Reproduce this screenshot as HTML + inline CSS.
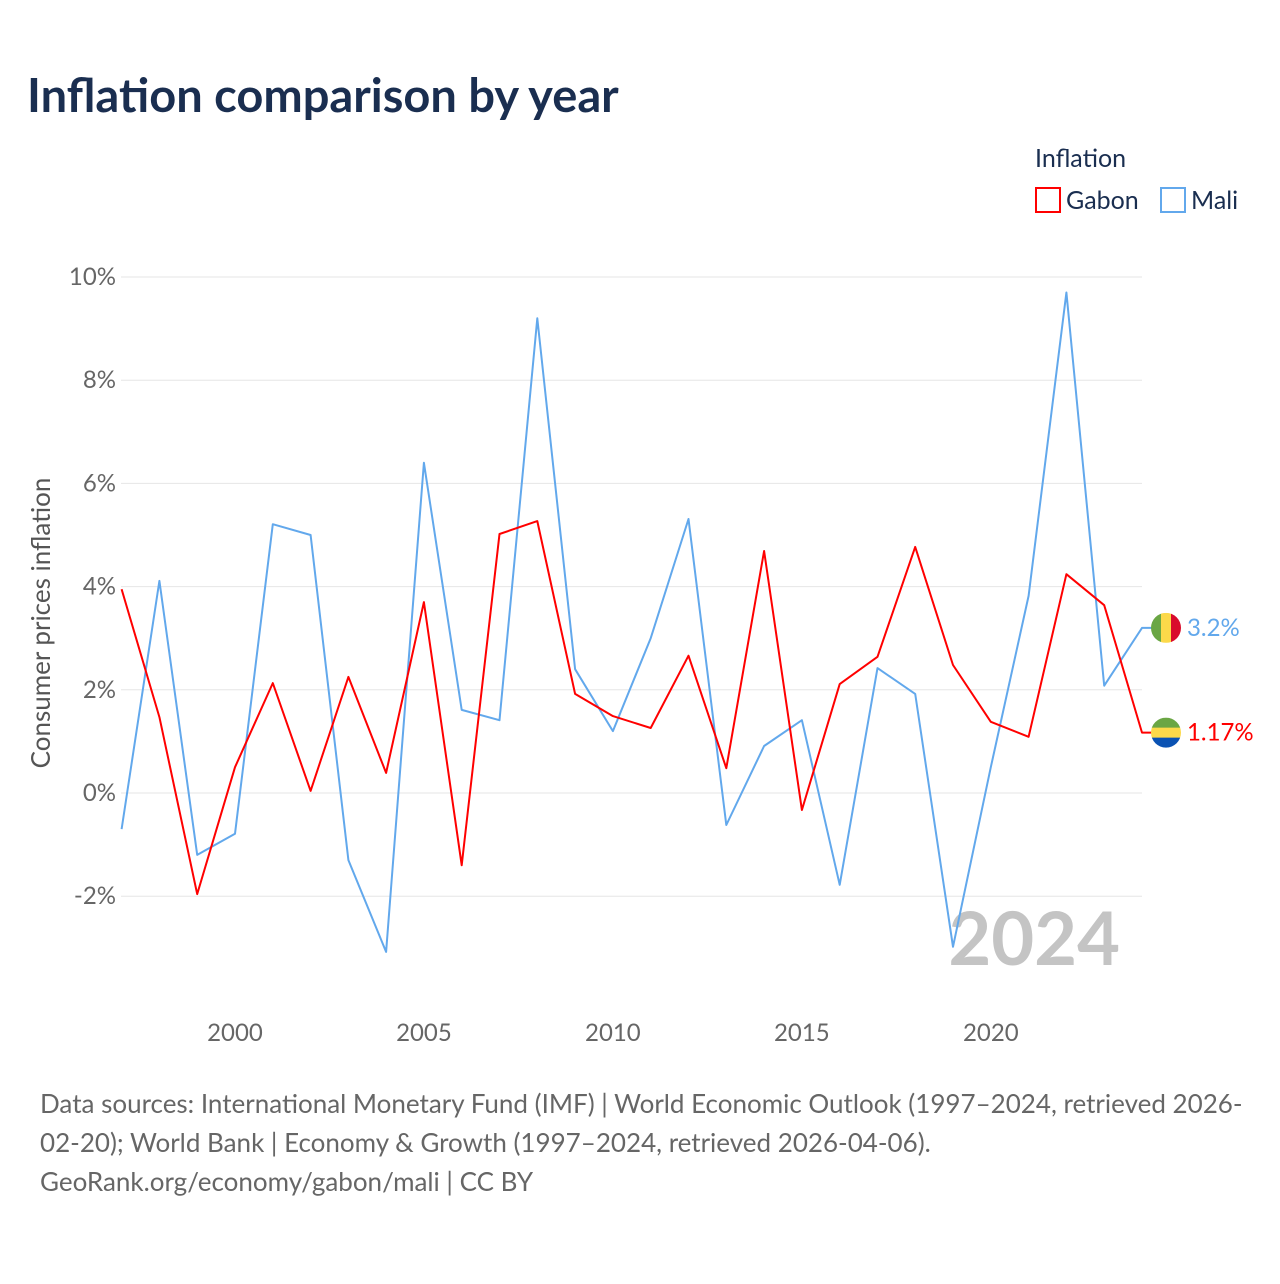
<!DOCTYPE html>
<html><head><meta charset="utf-8"><style>
body{margin:0;background:#fff;font-family:"Lato","Liberation Sans",sans-serif;}
svg text{font-family:"Lato","Liberation Sans",sans-serif;}
</style></head><body>
<svg id="c" width="1280" height="1280" viewBox="0 0 1280 1280">
<text x="27" y="112" font-size="47" font-weight="bold" fill="#1a2e50">Inflation comparison by year</text>
<g>
<text x="1035" y="167" font-size="25" fill="#1a2e50">Inflation</text>
<g><rect x="1036" y="188" width="24" height="24" fill="none" stroke="#f00" stroke-width="2"/><text x="1066" y="209" font-size="25" fill="#1a2e50">Gabon</text></g>
<g><rect x="1161" y="188" width="24" height="24" fill="none" stroke="#62a8ec" stroke-width="2"/><text x="1191" y="209" font-size="25" fill="#1a2e50">Mali</text></g>
</g>
<g id="grid"></g>
<g id="yt"></g>
<g id="xt"></g>
<text transform="translate(50,623) rotate(-90)" text-anchor="middle" font-size="26" fill="#555">Consumer prices inflation</text>
<text x="1120" y="965" text-anchor="end" font-size="74" font-weight="bold" fill="#c4c4c4">2024</text>
<g id="lines"></g>
<g font-size="26" fill="#666">
<text x="40" y="1113">Data sources: International Monetary Fund (IMF) | World Economic Outlook (1997–2024, retrieved 2026-</text>
<text x="40" y="1152">02-20); World Bank | Economy &amp; Growth (1997–2024, retrieved 2026-04-06).</text>
<text x="40" y="1191">GeoRank.org/economy/gabon/mali | CC BY</text>
</g>
</svg>
<script>
const years=[1997,1998,1999,2000,2001,2002,2003,2004,2005,2006,2007,2008,2009,2010,2011,2012,2013,2014,2015,2016,2017,2018,2019,2020,2021,2022,2023,2024];
const gabon=[3.95,1.47,-1.96,0.5,2.13,0.04,2.25,0.39,3.7,-1.4,5.02,5.27,1.92,1.49,1.26,2.66,0.48,4.69,-0.33,2.11,2.64,4.77,2.48,1.38,1.09,4.24,3.64,1.17];
const mali=[-0.7,4.11,-1.2,-0.79,5.21,5.0,-1.3,-3.08,6.4,1.61,1.41,9.2,2.4,1.2,3.0,5.31,-0.62,0.91,1.41,-1.78,2.42,1.92,-2.98,0.5,3.82,9.7,2.08,3.2];
const yTicks=[-2,0,2,4,6,8,10];
const xTicks=[2000,2005,2010,2015,2020];
const NS="http://www.w3.org/2000/svg";
const X=y=>121.6+(y-1997)*(1142-121.6)/27;
const Y=v=>793-v*51.6;
function mk(t,a,p){const e=document.createElementNS(NS,t);for(const k in a)e.setAttribute(k,a[k]);p.appendChild(e);return e;}
const grid=document.getElementById('grid'),yt=document.getElementById('yt'),xt=document.getElementById('xt'),lines=document.getElementById('lines');
yTicks.forEach(v=>{
 const l=mk('line',{x1:121,x2:1142,y1:Y(v),y2:Y(v),stroke:'#e6e6e6','stroke-width':1},grid);
 
 
 const t=mk('text',{x:116,y:Y(v)+8,'text-anchor':'end','font-size':24,fill:'#666'},yt);
 t.textContent=v+'%';
 
 
});
xTicks.forEach(v=>{
 const t=mk('text',{x:X(v),y:1041,'text-anchor':'middle','font-size':24,fill:'#666'},xt);
 t.textContent=v;
 
 
});
function series(vals,color,name,flag,label){
 const last=vals[vals.length-1];
 let d=vals.map((v,i)=>(i?'L':'M')+X(years[i]).toFixed(1)+','+Y(v).toFixed(1)).join(' ');
 d+=' L'+(X(years[years.length-1])+10)+','+Y(last).toFixed(1);
 const p=mk('path',{d:d,fill:'none',stroke:color,'stroke-width':2,'stroke-linejoin':'round'},lines);
 
 
 const cy=Y(last),cx=1166,r=15;
 const g=mk('g',{},lines);
 
 
 const cid='clip-'+name;
 const cp=mk('clipPath',{id:cid},g);mk('circle',{cx:cx,cy:cy,r:r},cp);
 if(flag==='v'){['#6aa644','#fcd94a','#d90b2c'].forEach((c,i)=>mk('rect',{x:cx-r+i*10,y:cy-r,width:10.5,height:30,fill:c,'clip-path':'url(#'+cid+')'},g));}
 else{['#6aa644','#fcd94a','#0a52b3'].forEach((c,i)=>mk('rect',{x:cx-r,y:cy-r+i*10,width:30,height:10.5,fill:c,'clip-path':'url(#'+cid+')'},g));}
 const t=mk('text',{x:1187,y:cy+8,'font-size':24,fill:color},lines);
 t.textContent=label;
 
 
}
series(mali,'#62a8ec','mali','v','3.2%');
series(gabon,'#ff0000','gabon','h','1.17%');
</script>
</body></html>
